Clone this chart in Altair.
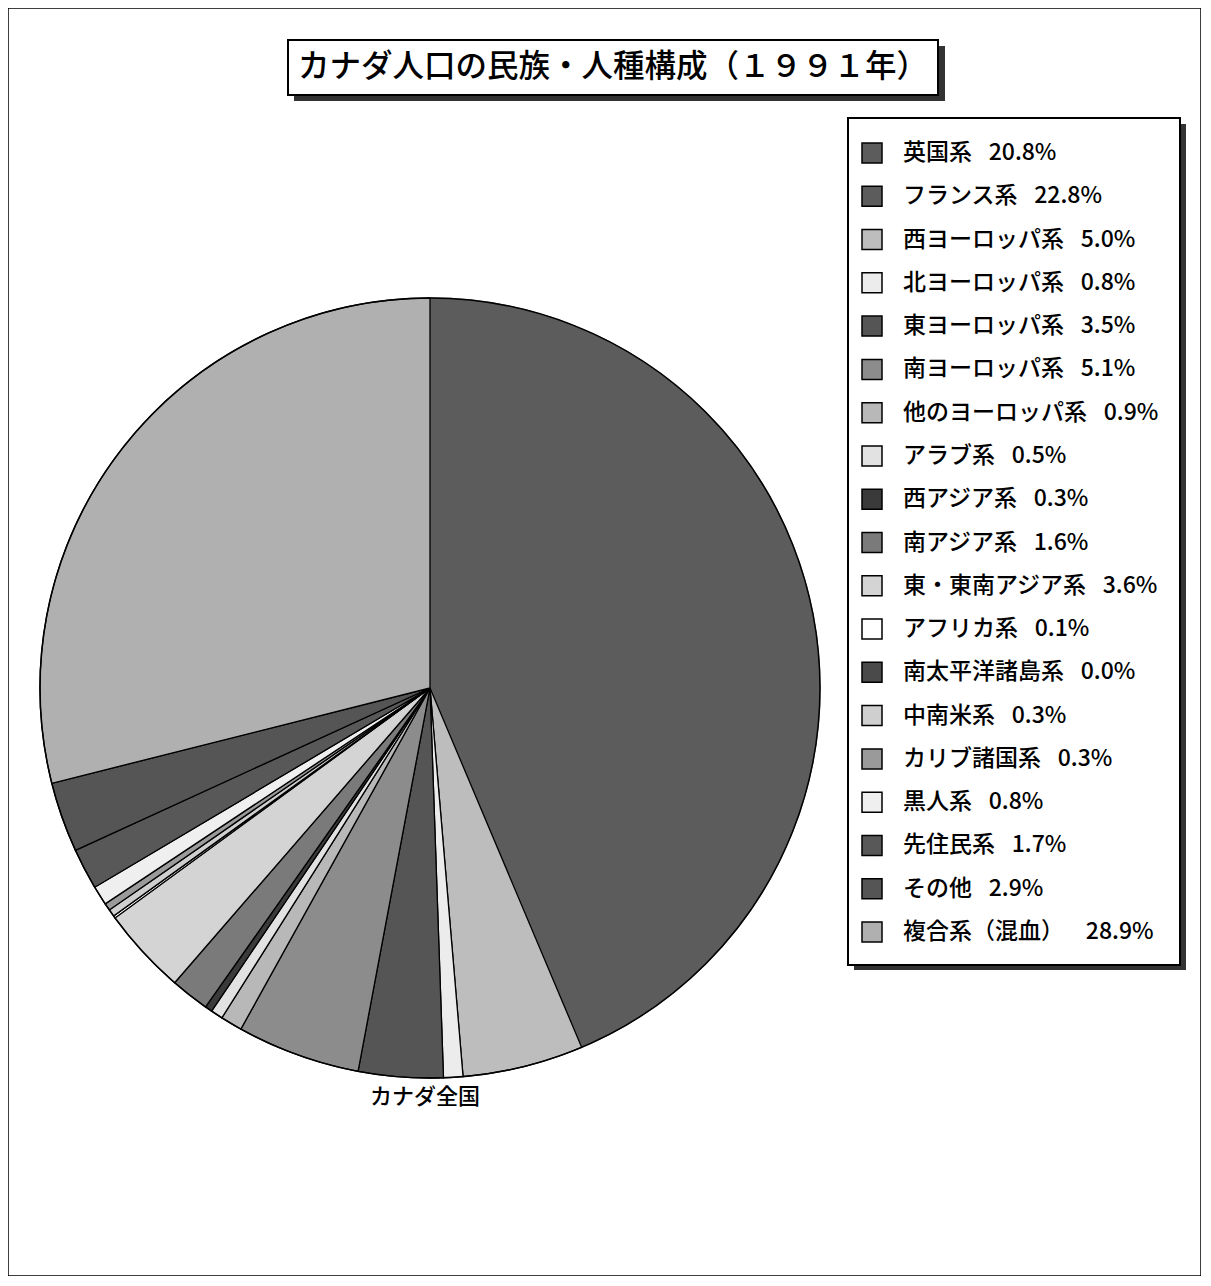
import altair as alt
import pandas as pd
import math

categories = ["英国系", "フランス系", "西ヨーロッパ系", "北ヨーロッパ系", "東ヨーロッパ系",
              "南ヨーロッパ系", "他のヨーロッパ系", "アラブ系", "西アジア系", "南アジア系",
              "東・東南アジア系", "アフリカ系", "南太平洋諸島系", "中南米系", "カリブ諸国系",
              "黒人系", "先住民系", "その他", "複合系（混血）"]
values = [20.8, 22.8, 5.0, 0.8, 3.5, 5.1, 0.9, 0.5, 0.3, 1.6, 3.6, 0.1, 0.0, 0.3, 0.3,
          0.8, 1.7, 2.9, 28.9]
colors = ["#5c5c5c", "#5c5c5c", "#bdbdbd", "#ececec", "#555555", "#8c8c8c", "#b8b8b8",
          "#e2e2e2", "#3a3a3a", "#7a7a7a", "#d4d4d4", "#ffffff", "#4a4a4a", "#cfcfcf",
          "#9a9a9a", "#efefef", "#585858", "#555555", "#b0b0b0"]
# the first two slices share one pattern and show no border between them
edge_colors = ["#5c5c5c", "#5c5c5c"] + ["black"] * 17
total_label = "カナダ全国"
title_text = "カナダ人口の民族・人種構成（１９９１年）"

SP = "\u2002\u00a0"
labels = [f"{c}{SP}{v:.1f}%" if i != len(categories) - 1 else f"{c}{SP}\u00a0{v:.1f}%"
          for i, (c, v) in enumerate(zip(categories, values))]
df = pd.DataFrame({"idx": list(range(len(categories))), "cat": categories,
                   "value": values, "label": labels, "edge": edge_colors})

FONT = "Noto Sans CJK JP"
WEIGHT = 500
color_scale = alt.Scale(domain=labels, range=colors)
dummy = pd.DataFrame({"a": [0]})

pie = alt.Chart(df).mark_arc(radius=390, strokeWidth=1.3).encode(
    theta=alt.Theta("value:Q", stack=True),
    color=alt.Color("label:N", scale=color_scale, legend=None),
    stroke=alt.Stroke("edge:N", scale=None),
    order=alt.Order("idx:Q"),
    x=alt.value(422),
    y=alt.value(680),
)
rim = alt.Chart(dummy).mark_arc(radius=390, fill=None, stroke="black", strokeWidth=1.5).encode(
    theta=alt.value(0), theta2=alt.value(2 * math.pi), x=alt.value(422), y=alt.value(680))

pie_label = alt.Chart(dummy).mark_text(
    text=total_label, font=FONT, fontSize=22, fontWeight=WEIGHT, align="center",
    baseline="middle", color="black"
).encode(x=alt.value(417), y=alt.value(1089))

# title box with shadow
title_shadow = alt.Chart(dummy).mark_rect(fill="#333333").encode(
    x=alt.value(286), x2=alt.value(937), y=alt.value(38), y2=alt.value(93))
title_box = alt.Chart(dummy).mark_rect(fill="white", stroke="black", strokeWidth=2).encode(
    x=alt.value(280), x2=alt.value(930), y=alt.value(32), y2=alt.value(87))
title = alt.Chart(dummy).mark_text(
    text=title_text, font=FONT, fontSize=31.5, fontWeight=WEIGHT, align="center",
    baseline="middle", color="black"
).encode(x=alt.value(605), y=alt.value(60))

# legend box with shadow
leg_shadow = alt.Chart(dummy).mark_rect(fill="#333333").encode(
    x=alt.value(846), x2=alt.value(1178), y=alt.value(116), y2=alt.value(962))
leg_box = alt.Chart(dummy).mark_rect(fill="white", stroke="black", strokeWidth=2).encode(
    x=alt.value(840), x2=alt.value(1172), y=alt.value(110), y2=alt.value(957))

yscale = alt.Scale(type="point", domain=labels, range=[145, 924], padding=0)
leg_sym = alt.Chart(df).mark_square(size=400, stroke="black", strokeWidth=1.5, opacity=1).encode(
    x=alt.value(864),
    y=alt.Y("label:N", scale=yscale, axis=None),
    color=alt.Color("label:N", scale=color_scale, legend=None),
)
leg_text = alt.Chart(df).mark_text(font=FONT, fontSize=23, fontWeight=WEIGHT, align="left",
                                   baseline="middle", color="black").encode(
    x=alt.value(895),
    y=alt.Y("label:N", scale=yscale, axis=None),
    text="label:N",
)

chart = alt.layer(pie, rim, pie_label, title_shadow, title_box, title, leg_shadow, leg_box,
                  leg_sym, leg_text).properties(
    width=1193, height=1268, padding=0, autosize="none", background="white"
).configure_view(stroke="black", strokeWidth=1.5)

chart.save("out.html", embed_options={"renderer": "svg", "actions": False})
